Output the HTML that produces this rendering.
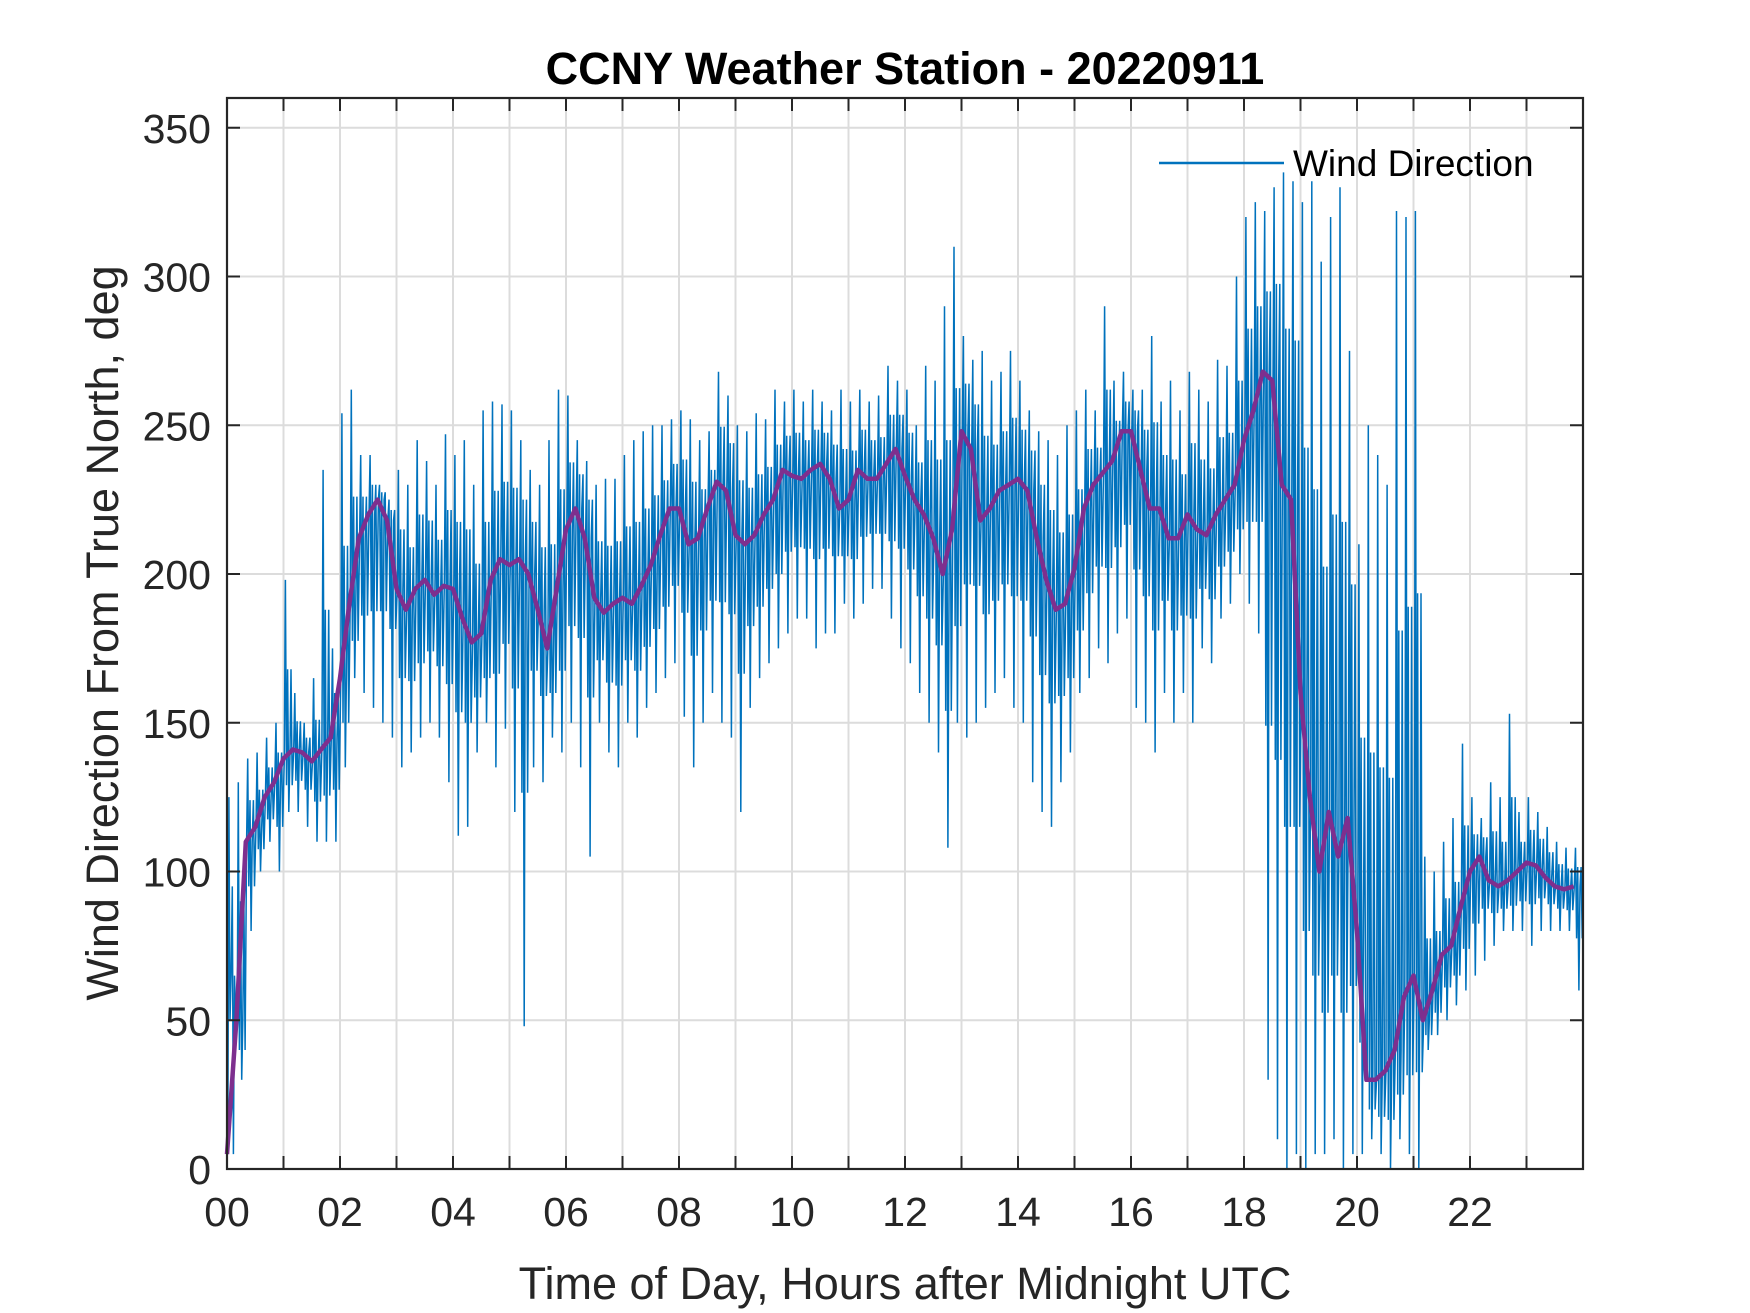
<!DOCTYPE html>
<html><head><meta charset="utf-8"><style>
html,body{margin:0;padding:0;background:#fff;}
svg{display:block;font-family:"Liberation Sans",Arial,sans-serif;}
</style></head><body>
<svg id="chart" width="1750" height="1313" viewBox="0 0 1750 1313">
<rect x="0" y="0" width="1750" height="1313" fill="#fff"/>
<rect x="227" y="98" width="1356" height="1071" fill="#fff"/>
<g id="grid"></g>
<g id="series"></g>
<g id="axes"></g>
<text x="905" y="84" text-anchor="middle" font-size="45" font-weight="bold" fill="#000">CCNY Weather Station - 20220911</text>
<text x="905" y="1299" text-anchor="middle" font-size="45" fill="#262626">Time of Day, Hours after Midnight UTC</text>
<text transform="translate(118,633) rotate(-90)" text-anchor="middle" font-size="45" fill="#262626">Wind Direction From True North, deg</text>
<g>
<line x1="1159" y1="163" x2="1284" y2="163" stroke="#0072BD" stroke-width="2.5"/>
<text x="1293" y="176" font-size="37" fill="#000">Wind Direction</text>
</g>
</svg>
<script>
const xTicks = [0,2,4,6,8,10,12,14,16,18,20,22];
const xTickLabels = ["00","02","04","06","08","10","12","14","16","18","20","22"];
const yTicks = [0,50,100,150,200,250,300,350];
const yTickLabels = ["0","50","100","150","200","250","300","350"];
const smoothDir = [5,50,110,115,125,130, 138,141,140,137,141,145, 165,190,212,220,225,218, 195,188,195,198,193,196,
195,185,177,180,198,205, 203,205,200,188,175,195, 215,222,212,192,187,190, 192,190,196,203,213,222,
222,210,212,222,231,228, 213,210,213,220,225,235, 233,232,235,237,232,222, 225,235,232,232,237,242,
233,225,220,212,200,215, 248,242,218,222,228,230, 232,228,212,198,188,190, 202,222,230,234,238,248,
248,235,222,222,212,212, 220,215,213,220,225,230, 245,255,268,265,230,225, 160,125,100,120,105,118,
80,30,30,33,40,58, 65,50,60,72,75,88, 100,105,97,95,97,100, 103,102,98,95,94,95];
const rawHigh = [125,130,138,140,145,150, 198,160,150,165,235,175, 254,262,240,240,230,225, 235,230,245,238,230,247,
240,245,230,255,258,257, 255,245,235,230,245,262, 260,245,238,230,232,232, 240,245,248,250,250,252,
255,252,245,248,268,260, 250,248,254,252,262,258, 262,258,262,258,255,262, 258,262,258,260,270,265,
262,250,270,265,290,310, 280,272,275,265,268,275, 265,255,248,245,240,250, 255,262,255,290,265,268,
262,262,280,258,265,255, 268,262,258,272,270,300, 320,325,322,330,335,332, 325,332,305,320,330,275,
210,250,240,230,322,320, 322,105,100,110,118,143, 125,118,130,125,153,120, 125,120,115,110,108,108];
const rawLow = [95,30,80,100,110,100, 120,120,115,110,110,110, 135,165,160,155,150,145, 135,140,145,150,145,130,
112,115,140,150,135,148, 120,48,135,130,145,140, 150,135,105,150,140,135, 150,145,155,160,165,170,
152,135,150,160,150,145, 120,155,165,170,175,180, 185,185,175,180,180,190, 185,190,195,195,185,175,
170,160,150,140,108,150, 145,150,155,160,165,155, 150,130,120,115,130,140, 160,165,175,170,180,185,
155,150,140,160,150,160, 150,175,170,185,190,200, 190,180,30,10,0,5, 0,5,5,10,0,5,
5,10,5,0,10,5, 0,40,45,50,55,60, 65,70,75,80,80,80, 75,80,80,80,80,60];

const L=227,R=1583,T=98,B=1169,XMAX=24,YMAX=360;
const xs=h=>L+(h/XMAX)*(R-L);
const ys=v=>B-(v/YMAX)*(B-T);
const NS='http://www.w3.org/2000/svg';
function mk(tag,attrs,parent){const e=document.createElementNS(NS,tag);for(const k in attrs)e.setAttribute(k,attrs[k]);parent.appendChild(e);return e;}
const grid=document.getElementById('grid'),series=document.getElementById('series'),axes=document.getElementById('axes');

for(let h=1;h<24;h++){
  const g=mk('line',{x1:xs(h),x2:xs(h),y1:T,y2:B,stroke:'#dcdcdc','stroke-width':2},grid);
  
  
}
yTicks.forEach(v=>{
  if(v===0)return;
  const g=mk('line',{x1:L,x2:R,y1:ys(v),y2:ys(v),stroke:'#dcdcdc','stroke-width':2},grid);
  
  
});

const n=rawHigh.length, bw=XMAX/n;
let pts=[];
for(let i=0;i<n;i++){
  const x0=i*bw, hi=rawHigh[i], lo=rawLow[i], s=smoothDir[i];
  const seq=[[0.08,s],[0.2,hi],[0.32,(lo+s)/2],[0.44,(hi+s)/2],[0.56,lo],[0.68,s],[0.8,(hi+s)/2],[0.92,(lo+s)/2]];
  seq.forEach(p=>pts.push(xs(x0+bw*p[0]).toFixed(1)+','+ys(p[1]).toFixed(1)));
}
const raw=mk('polyline',{points:pts.join(' '),fill:'none',stroke:'#0072BD','stroke-width':1.5,'stroke-linejoin':'miter'},series);



const sp=smoothDir.map((v,i)=>xs(i*XMAX/smoothDir.length).toFixed(1)+','+ys(v).toFixed(1)).join(' ');
const sm=mk('polyline',{points:sp,fill:'none',stroke:'#7E2F8E','stroke-width':4.5,'stroke-linejoin':'round'},series);



const box=mk('rect',{x:L,y:T,width:R-L,height:B-T,fill:'none',stroke:'#262626','stroke-width':2.2},axes);


for(let h=0;h<=24;h++){
  const t1=mk('line',{x1:xs(h),x2:xs(h),y1:B,y2:B-13,stroke:'#262626','stroke-width':2},axes);
  
  
  const t2=mk('line',{x1:xs(h),x2:xs(h),y1:T,y2:T+13,stroke:'#262626','stroke-width':2},axes);
  
  
}
xTicks.forEach((h,i)=>{
  const t=mk('text',{x:xs(h),y:B+57,'text-anchor':'middle','font-size':41,fill:'#262626'},axes);
  t.textContent=xTickLabels[i];
  
  
});
yTicks.forEach((v,i)=>{
  const a=mk('line',{x1:L,x2:L+13,y1:ys(v),y2:ys(v),stroke:'#262626','stroke-width':2},axes);
  
  
  const b=mk('line',{x1:R,x2:R-13,y1:ys(v),y2:ys(v),stroke:'#262626','stroke-width':2},axes);
  
  
  const t=mk('text',{x:L-16,y:ys(v)+15,'text-anchor':'end','font-size':41,fill:'#262626'},axes);
  t.textContent=yTickLabels[i];
  
  
});
</script>
</body></html>
